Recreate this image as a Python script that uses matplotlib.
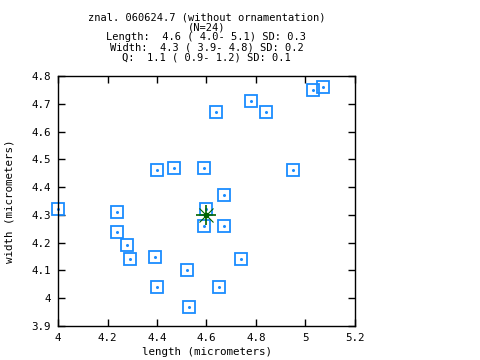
import matplotlib
matplotlib.use("Agg")
import matplotlib.pyplot as plt

# spore measurements (micrometers)
length = [4.00, 4.24, 4.40, 4.47, 4.59, 4.64, 4.67, 4.60, 4.78, 4.84, 5.03, 5.07,
          4.95, 4.24, 4.28, 4.29, 4.39, 4.40, 4.52, 4.53, 4.59, 4.67, 4.65, 4.74]
width = [4.32, 4.31, 4.46, 4.47, 4.47, 4.67, 4.37, 4.32, 4.71, 4.67, 4.75, 4.76,
         4.46, 4.24, 4.19, 4.14, 4.15, 4.04, 4.10, 3.97, 4.26, 4.26, 4.04, 4.14]
mean_length = 4.6
mean_width = 4.3

xticks = [4.0, 4.2, 4.4, 4.6, 4.8, 5.0, 5.2]
xticklabels = ["4", "4.2", "4.4", "4.6", "4.8", "5", "5.2"]
yticks = [3.9, 4.0, 4.1, 4.2, 4.3, 4.4, 4.5, 4.6, 4.7, 4.8]
yticklabels = ["3.9", "4", "4.1", "4.2", "4.3", "4.4", "4.5", "4.6", "4.7", "4.8"]

title_lines = ["znal. 060624.7 (without ornamentation)",
               "(N=24)",
               "Length:  4.6 ( 4.0- 5.1) SD: 0.3",
               "Width:  4.3 ( 3.9- 4.8) SD: 0.2",
               "Q:  1.1 ( 0.9- 1.2) SD: 0.1"]

mono = "DejaVu Sans Mono"
fs = 7.8
blue = "#1a8cff"
green = "#006400"

fig = plt.figure(figsize=(4.8, 3.6), dpi=100)
ax = fig.add_axes([58 / 480, 1 - 326 / 360, (355 - 58) / 480, (326 - 76) / 360])

ax.plot(length, width, ls="none", marker="s", ms=8.2, mfc="none", mec=blue, mew=1.3,
        clip_on=False)
ax.plot(length, width, ls="none", marker="o", ms=1.2, color=blue, clip_on=False)

# mean marker
ax.plot([mean_length], [mean_width], marker="+", ms=14, mew=1.2, color=green)
ax.plot([mean_length], [mean_width], marker="x", ms=10, mew=0.8, color=green)
ax.plot([mean_length], [mean_width], marker="o", ms=3, color=green)

ax.set_xlim(4.0, 5.2)
ax.set_ylim(3.9, 4.8)
ax.set_xticks(xticks)
ax.set_xticklabels(xticklabels, fontfamily=mono, fontsize=fs)
ax.set_yticks(yticks)
ax.set_yticklabels(yticklabels, fontfamily=mono, fontsize=fs)
ax.tick_params(direction="in", top=True, right=True, length=5, width=1, pad=5)
for s in ax.spines.values():
    s.set_linewidth(1)

ax.set_xlabel("length (micrometers)", fontfamily=mono, fontsize=fs, labelpad=3)
ax.set_ylabel("width (micrometers)", fontfamily=mono, fontsize=fs, labelpad=12)

ys = [17.5, 27.5, 37.5, 47.3, 57]
for line, y in zip(title_lines, ys):
    fig.text(206.5 / 480, 1 - y / 360, line, ha="center", va="center",
             fontfamily=mono, fontsize=7.5)

fig.savefig("out.png", dpi=100)
